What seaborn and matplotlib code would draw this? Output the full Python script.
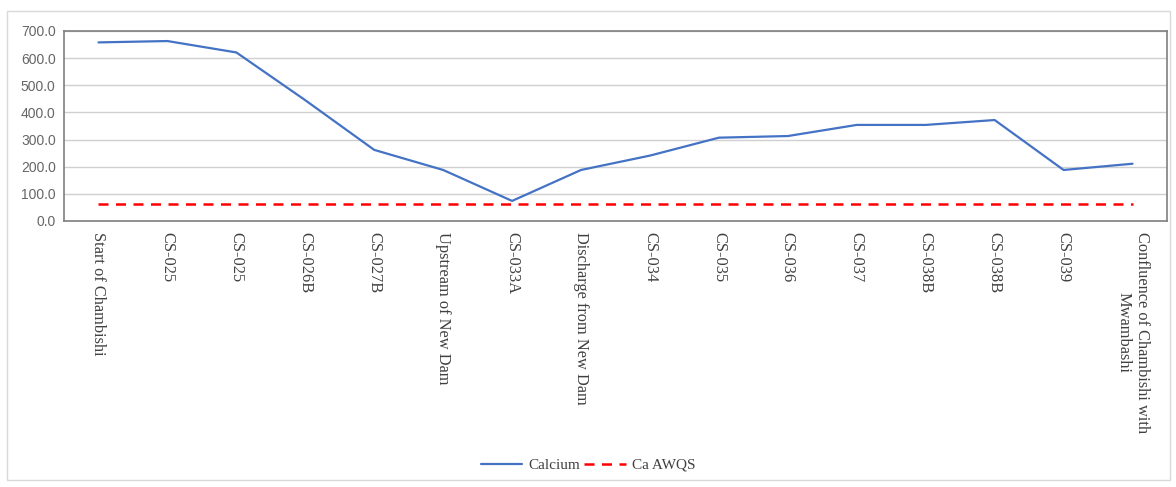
import numpy as np
import pandas as pd
import matplotlib.pyplot as plt
import matplotlib.patches as mpatches
import seaborn as sns

sites = ["Start of Chambishi", "CS-025", "CS-025", "CS-026B", "CS-027B",
         "Upstream of New Dam", "CS-033A", "Discharge from New Dam", "CS-034",
         "CS-035", "CS-036", "CS-037", "CS-038B", "CS-038B", "CS-039",
         "Confluence of Chambishi with\nMwambashi"]
calcium = [658, 663, 621, 445, 262, 188, 74, 188, 241, 307, 313, 354, 354, 372, 188, 211]
ca_awqs = [62] * len(sites)

sns.set_theme(style="white")
plt.rcParams['font.family'] = ['Liberation Serif', 'DejaVu Serif']

df = pd.DataFrame({
    "pos": np.arange(len(sites)),
    "Calcium": calcium,
    "Ca AWQS": ca_awqs,
})

fig = plt.figure(figsize=(11.76, 4.87), dpi=100)
ax = fig.add_axes([64 / 1176, 1 - 221 / 487, 1103 / 1176, 190 / 487])

sns.lineplot(data=df, x="pos", y="Calcium", ax=ax, color="#4472C4", linewidth=1.6, label="Calcium")
sns.lineplot(data=df, x="pos", y="Ca AWQS", ax=ax, color="#FF0000", linewidth=1.8,
             linestyle=(0, (4, 3)), label="Ca AWQS")

ax.set_xlim(-0.5, len(sites) - 0.5)
ax.set_ylim(0, 700)
ax.set_yticks(np.arange(0, 701, 100))
ax.set_yticklabels([f"{v:.1f}" for v in range(0, 701, 100)], family=['Liberation Sans', 'DejaVu Sans'],
                   fontsize=10, color="#666666")
ax.set_xticks(df["pos"])
ax.set_xticklabels(sites, rotation=-90, fontsize=11.8, color="#404040", va="top", ha="center",
                   multialignment="center")
ax.tick_params(axis="x", length=0, pad=8)
ax.tick_params(axis="y", length=0, pad=6)
ax.set_xlabel("")
ax.set_ylabel("")
ax.grid(axis="y", color="#d0d0d0", linewidth=1)
ax.set_axisbelow(True)
for s in ax.spines.values():
    s.set_color("#7f7f7f")
    s.set_linewidth(1.2)

ax.legend(loc="center", bbox_to_anchor=(0.5, (487 - 465) / 487), bbox_transform=fig.transFigure,
          ncol=2, frameon=False, fontsize=11, handlelength=2.7, columnspacing=0.3, handletextpad=0.4,
          labelcolor="#404040")

# outer chart border
fig.patches.append(mpatches.Rectangle((7 / 1176, 7 / 487), 1163 / 1176, 469 / 487,
                                      transform=fig.transFigure, fill=False,
                                      edgecolor="#d9d9d9", linewidth=1))

fig.savefig("out.png", dpi=100)
